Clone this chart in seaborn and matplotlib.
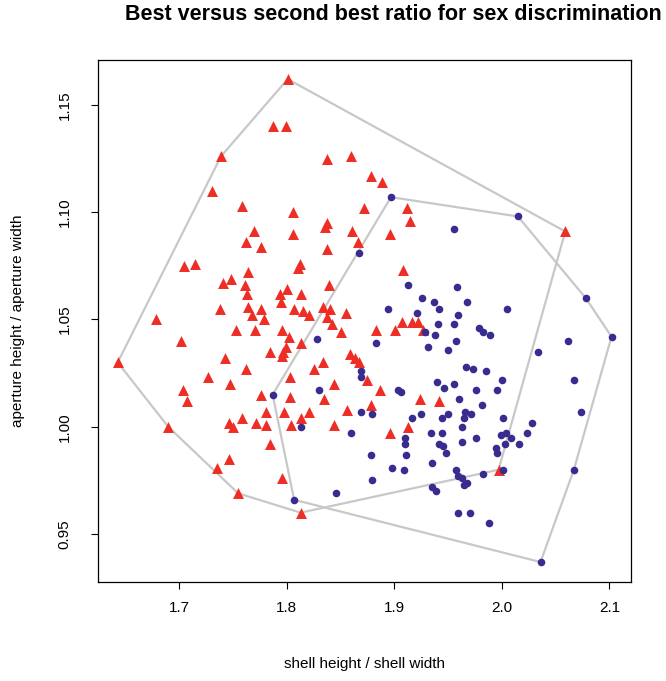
import matplotlib
matplotlib.use("Agg")
import matplotlib.pyplot as plt
import numpy as np
import pandas as pd
import seaborn as sns

# shell height / shell width (x) and aperture height / aperture width (y)
red_x = [
    1.643, 1.739, 1.801, 1.787, 1.799, 1.731, 1.759, 1.770, 1.838, 1.860,
    1.878, 1.889, 1.912, 1.915, 1.872, 1.806, 1.838, 1.836, 1.806, 1.861,
    1.896, 2.059, 1.762, 1.776, 1.705, 1.715, 1.764, 1.741, 1.748, 1.761,
    1.763, 1.764, 1.776, 1.738, 1.768, 1.779, 1.679, 1.753, 1.771, 1.702,
    1.785, 1.743, 1.762, 1.727, 1.747, 1.704, 1.776, 1.707, 1.866, 1.838,
    1.812, 1.811, 1.908, 1.839, 1.800, 1.794, 1.795, 1.813, 1.807, 1.815,
    1.821, 1.834, 1.840, 1.855, 1.838, 1.842, 1.907, 1.917, 1.922, 1.927,
    1.901, 1.883, 1.796, 1.802, 1.851, 1.813, 1.799, 1.797, 1.796, 1.859,
    1.864, 1.867, 1.834, 1.825, 1.803, 1.875, 1.844, 1.887, 1.803, 1.835,
    1.924, 1.942, 1.878, 1.690, 1.746, 1.750, 1.759, 1.772, 1.781, 1.781,
    1.785, 1.746, 1.735, 1.755, 1.798, 1.813, 1.821, 1.804, 1.856, 1.844,
    1.913, 1.896, 1.796, 1.813, 1.997,
]
red_y = [
    1.030, 1.126, 1.162, 1.140, 1.140, 1.110, 1.103, 1.091, 1.125, 1.126,
    1.117, 1.114, 1.102, 1.096, 1.102, 1.100, 1.095, 1.093, 1.090, 1.091,
    1.090, 1.091, 1.086, 1.084, 1.075, 1.076, 1.072, 1.067, 1.069, 1.066,
    1.062, 1.056, 1.055, 1.055, 1.052, 1.050, 1.050, 1.045, 1.045, 1.040,
    1.035, 1.032, 1.027, 1.023, 1.020, 1.017, 1.015, 1.012, 1.086, 1.083,
    1.076, 1.074, 1.073, 1.066, 1.064, 1.062, 1.058, 1.062, 1.055, 1.054,
    1.052, 1.056, 1.055, 1.053, 1.051, 1.048, 1.049, 1.049, 1.049, 1.045,
    1.045, 1.045, 1.045, 1.042, 1.044, 1.039, 1.037, 1.035, 1.033, 1.034,
    1.032, 1.030, 1.030, 1.027, 1.023, 1.022, 1.020, 1.017, 1.014, 1.013,
    1.013, 1.012, 1.010, 1.000, 1.002, 1.000, 1.004, 1.002, 1.007, 1.001,
    0.992, 0.985, 0.981, 0.969, 1.007, 1.004, 1.007, 1.001, 1.008, 1.001,
    1.000, 0.997, 0.976, 0.960, 0.980,
]
blue_x = [
    1.897, 2.015, 1.956, 1.867, 1.913, 1.958, 1.926, 1.937, 1.942, 1.968,
    1.894, 1.921, 1.959, 2.078, 2.005, 1.941, 1.956, 1.929, 1.938, 1.979,
    1.983, 1.989, 2.102, 2.062, 1.828, 1.883, 1.931, 1.950, 1.957, 2.034,
    1.869, 1.869, 1.967, 1.973, 1.985, 2.000, 2.067, 1.940, 1.956, 1.946,
    1.976, 1.996, 1.904, 1.906, 1.830, 1.787, 1.960, 1.982, 1.879, 1.925,
    1.917, 1.944, 1.950, 1.966, 1.971, 1.965, 1.963, 2.001, 2.028, 2.074,
    1.910, 1.910, 1.911, 1.934, 1.944, 1.963, 1.976, 1.999, 2.004, 2.009,
    2.023, 1.942, 1.945, 1.948, 1.878, 1.995, 1.996, 2.003, 2.016, 1.935,
    1.898, 1.909, 2.001, 2.067, 1.957, 1.959, 1.963, 1.968, 1.965, 1.983,
    1.879, 1.935, 1.939, 1.846, 1.807, 1.959, 1.970, 1.988, 2.036, 1.813,
    1.860, 1.869,
]
blue_y = [
    1.107, 1.098, 1.092, 1.081, 1.066, 1.065, 1.060, 1.058, 1.055, 1.058,
    1.055, 1.053, 1.052, 1.060, 1.055, 1.048, 1.048, 1.044, 1.043, 1.046,
    1.044, 1.043, 1.042, 1.040, 1.041, 1.039, 1.037, 1.036, 1.040, 1.035,
    1.026, 1.023, 1.028, 1.027, 1.026, 1.022, 1.022, 1.021, 1.020, 1.018,
    1.017, 1.017, 1.017, 1.016, 1.017, 1.015, 1.013, 1.010, 1.006, 1.006,
    1.004, 1.004, 1.006, 1.007, 1.006, 1.004, 1.000, 1.004, 1.002, 1.007,
    0.995, 0.992, 0.987, 0.997, 0.997, 0.993, 0.995, 0.996, 0.997, 0.995,
    0.997, 0.992, 0.991, 0.988, 0.987, 0.990, 0.988, 0.992, 0.992, 0.983,
    0.981, 0.980, 0.980, 0.980, 0.980, 0.977, 0.976, 0.974, 0.973, 0.978,
    0.975, 0.972, 0.970, 0.969, 0.966, 0.960, 0.960, 0.955, 0.937, 1.000,
    0.997, 1.007,
]

x_ticks = [1.7, 1.8, 1.9, 2.0, 2.1]
y_ticks = [0.95, 1.00, 1.05, 1.10, 1.15]

RED = "#EE2E24"
BLUE = "#382C8E"
HULL = "#C8C8C8"


def convex_hull(xs, ys):
    pts = sorted(set(zip(xs, ys)))

    def cross(o, a, b):
        return (a[0] - o[0]) * (b[1] - o[1]) - (a[1] - o[1]) * (b[0] - o[0])

    lower, upper = [], []
    for p in pts:
        while len(lower) >= 2 and cross(lower[-2], lower[-1], p) <= 0:
            lower.pop()
        lower.append(p)
    for p in reversed(pts):
        while len(upper) >= 2 and cross(upper[-2], upper[-1], p) <= 0:
            upper.pop()
        upper.append(p)
    hull = lower[:-1] + upper[:-1]
    hull.append(hull[0])
    return np.array(hull)


df = pd.concat([
    pd.DataFrame({"x": red_x, "y": red_y, "sex": "female"}),
    pd.DataFrame({"x": blue_x, "y": blue_y, "sex": "male"}),
], ignore_index=True)

sns.set_style("white")
plt.rcParams["font.family"] = ["Liberation Sans", "DejaVu Sans"]
plt.rcParams["text.color"] = "black"
plt.rcParams["axes.labelcolor"] = "black"

fig = plt.figure(figsize=(6.66, 6.81), dpi=100)
ax = fig.add_axes([98 / 666, 1 - 582 / 681, 533 / 666, 522 / 681])

for xs, ys in [(red_x, red_y), (blue_x, blue_y)]:
    h = convex_hull(xs, ys)
    ax.plot(h[:, 0], h[:, 1], color=HULL, lw=1.6, zorder=1)

sns.scatterplot(data=df[df["sex"] == "female"], x="x", y="y", marker="^",
                color=RED, s=62, linewidth=0, ax=ax, zorder=3, legend=False)
sns.scatterplot(data=df[df["sex"] == "male"], x="x", y="y", marker="o",
                color=BLUE, s=30, linewidth=0, ax=ax, zorder=3, legend=False)

ax.set_xlim(1.6247, 2.1201)
ax.set_ylim(0.9277, 1.1709)
ax.set_xticks(x_ticks)
ax.set_xticklabels([f"{v:.1f}" for v in x_ticks])
ax.set_yticks(y_ticks)
ax.set_yticklabels([f"{v:.2f}" for v in y_ticks])
ax.tick_params(axis="both", direction="out", length=5, width=0.8,
               labelsize=11, colors="black", left=True, bottom=True)
ax.tick_params(axis="x", pad=9)
ax.tick_params(axis="y", labelrotation=90, pad=14)
for lab in ax.get_yticklabels():
    lab.set_va("center")
for sp in ax.spines.values():
    sp.set_color("black")
    sp.set_linewidth(0.9)

ax.set_xlabel("shell height / shell width", fontsize=11)
ax.set_ylabel("aperture height / aperture width", fontsize=11)
ax.xaxis.set_label_coords(0.5, -(664 - 582) / 522)
ax.xaxis.label.set_va("center")
ax.yaxis.set_label_coords(-(98 - 18) / 533, 0.5)
ax.yaxis.label.set_va("center")

fig.text(393 / 666, 1 - 14 / 681,
         "Best versus second best ratio for sex discrimination",
         ha="center", va="center", fontsize=15.5, fontweight="bold")

fig.savefig("out.png", dpi=100, facecolor="white")
